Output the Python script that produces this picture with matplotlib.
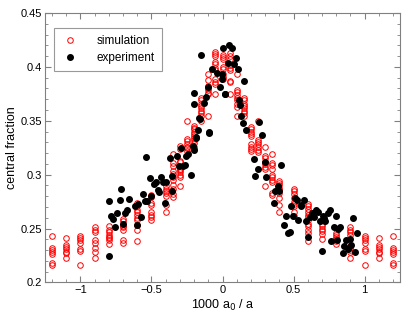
import numpy as np
import matplotlib.pyplot as plt
from matplotlib.ticker import MultipleLocator

plt.rcParams.update({
    'font.family': ['Liberation Sans', 'DejaVu Sans'],
    'font.size': 8,
    'axes.unicode_minus': True,
})

# simulation: several runs per a0 column
sim_cols = [-1.2, -1.1, -1.0, -0.9, -0.8, -0.7, -0.6, -0.5, -0.4, -0.35, -0.3,
            -0.25, -0.2, -0.15, -0.1, -0.05, 0.0, 0.05, 0.1, 0.15, 0.2, 0.25,
            0.3, 0.35, 0.4, 0.5, 0.6, 0.7, 0.8, 0.9, 1.0, 1.1, 1.2]
sim_vals = [
    [0.243, 0.232, 0.230, 0.228, 0.226, 0.218, 0.216],
    [0.241, 0.235, 0.233, 0.231, 0.228, 0.227, 0.223],
    [0.243, 0.241, 0.239, 0.237, 0.231, 0.229, 0.216],
    [0.251, 0.249, 0.247, 0.239, 0.237, 0.232, 0.228, 0.223],
    [0.252, 0.249, 0.247, 0.244, 0.242, 0.241, 0.239, 0.236],
    [0.259, 0.257, 0.252, 0.251, 0.249, 0.239, 0.237],
    [0.274, 0.271, 0.267, 0.265, 0.263, 0.260, 0.258, 0.253, 0.249, 0.238],
    [0.281, 0.279, 0.274, 0.272, 0.265, 0.263, 0.261, 0.258],
    [0.289, 0.287, 0.285, 0.283, 0.280, 0.272, 0.265],
    [0.319, 0.311, 0.308, 0.303, 0.301, 0.298, 0.295, 0.290, 0.287, 0.282, 0.279],
    [0.327, 0.324, 0.313, 0.312, 0.305, 0.304, 0.302, 0.300, 0.298, 0.289],
    [0.350, 0.333, 0.331, 0.328, 0.326, 0.325, 0.322],
    [0.345, 0.343, 0.342, 0.340, 0.338, 0.336, 0.334, 0.332, 0.329, 0.326, 0.324],
    [0.371, 0.369, 0.366, 0.364, 0.362, 0.359, 0.357, 0.354, 0.350],
    [0.393, 0.388, 0.382, 0.380, 0.379, 0.376, 0.375, 0.354],
    [0.414, 0.412, 0.410, 0.405, 0.403, 0.399, 0.397, 0.389, 0.386, 0.384, 0.375],
    [0.411, 0.409, 0.407, 0.400, 0.398, 0.393, 0.391, 0.389],
    [0.413, 0.410, 0.407, 0.402, 0.399, 0.397, 0.387, 0.386, 0.375],
    [0.393, 0.379, 0.377, 0.374, 0.371, 0.369, 0.366, 0.363, 0.354],
    [0.371, 0.369, 0.366, 0.364, 0.362, 0.359, 0.357, 0.354],
    [0.344, 0.342, 0.340, 0.338, 0.336, 0.328, 0.326, 0.324, 0.322],
    [0.350, 0.332, 0.330, 0.328, 0.326, 0.323, 0.321],
    [0.326, 0.317, 0.315, 0.312, 0.310, 0.307, 0.305, 0.289],
    [0.319, 0.311, 0.309, 0.305, 0.300, 0.298, 0.295, 0.293, 0.283, 0.281],
    [0.294, 0.292, 0.290, 0.288, 0.286, 0.283, 0.278, 0.272, 0.265],
    [0.287, 0.285, 0.282, 0.278, 0.275, 0.273, 0.271, 0.265, 0.262],
    [0.273, 0.271, 0.268, 0.265, 0.263, 0.261, 0.258, 0.254, 0.252, 0.249, 0.246, 0.238],
    [0.254, 0.252, 0.250, 0.248, 0.245, 0.240],
    [0.246, 0.244, 0.242, 0.240, 0.238, 0.236],
    [0.251, 0.249, 0.247, 0.244, 0.234, 0.232, 0.230, 0.228, 0.223],
    [0.243, 0.241, 0.239, 0.237, 0.231, 0.229, 0.216],
    [0.241, 0.235, 0.233, 0.231, 0.228, 0.227, 0.223],
    [0.243, 0.232, 0.230, 0.228, 0.226, 0.218, 0.216],
]

# experiment
exp_x = [-0.796, -0.796, -0.784, -0.768, -0.754, -0.742, -0.725, -0.718, -0.702, -0.690,
         -0.674, -0.660, -0.615, -0.603, -0.592, -0.575, -0.561, -0.549, -0.542, -0.530,
         -0.514, -0.500, -0.484, -0.470, -0.456, -0.444, -0.430, -0.417, -0.404, -0.396,
         -0.373, -0.359, -0.354, -0.319, -0.308, -0.294, -0.280, -0.265, -0.256, -0.242,
         -0.220, -0.209, -0.204, -0.190, -0.174, -0.157, -0.092, -0.204, -0.148, -0.202,
         -0.185, -0.162, -0.132, -0.115, -0.092, -0.075, -0.037, -0.021, -0.007, 0.005,
         0.019, 0.037, 0.049, 0.065, 0.092, 0.080, 0.108, -0.002, 0.150, -0.104,
         0.021, 0.115, 0.120, 0.131, 0.143, 0.260, 0.162, 0.277, 0.220, 0.296,
         0.248, 0.232, 0.308, 0.415, 0.392, 0.373, 0.401, 0.361, 0.479, 0.509,
         0.523, 0.554, 0.577, 0.430, 0.446, 0.460, 0.472, 0.495, 0.533, 0.554,
         0.590, 0.600, 0.613, 0.627, 0.643, 0.660, 0.671, 0.685, 0.699, 0.707,
         0.716, 0.725, 0.742, 0.754, 0.765, 0.784, 0.796, 0.805, 0.815, 0.829,
         0.847, 0.859, 0.873, 0.887, 0.899, 0.906, 0.918, 0.930, 0.944]
exp_y = [0.2244, 0.2759, 0.2620, 0.2590, 0.2516, 0.2640, 0.2769, 0.2870, 0.2546, 0.2645,
         0.2676, 0.2775, 0.2707, 0.2534, 0.2731, 0.2608, 0.2824, 0.2753, 0.3167, 0.2753,
         0.2970, 0.2800, 0.2914, 0.2932, 0.2855, 0.2840, 0.2975, 0.2932, 0.2738, 0.2932,
         0.3150, 0.2852, 0.2985, 0.3176, 0.3083, 0.3250, 0.3077, 0.3093, 0.3176, 0.3194,
         0.2994, 0.3262, 0.3230, 0.3340, 0.3410, 0.3516, 0.3386, 0.3757, 0.4111, 0.3657,
         0.3345, 0.3525, 0.3664, 0.3725, 0.3395, 0.3981, 0.3942, 0.3812, 0.3935, 0.4173,
         0.3750, 0.4040, 0.4204, 0.4179, 0.4080, 0.4025, 0.3979, 0.3889, 0.3870, 0.3818,
         0.3753, 0.3692, 0.3648, 0.3540, 0.3479, 0.3488, 0.3417, 0.3367, 0.3146, 0.3114,
         0.3053, 0.2991, 0.2975, 0.3086, 0.2892, 0.2845, 0.2845, 0.2738, 0.2707, 0.2784,
         0.2762, 0.2716, 0.2762, 0.2530, 0.2614, 0.2454, 0.2466, 0.2620, 0.2583, 0.2707,
         0.2568, 0.2423, 0.2608, 0.2645, 0.2608, 0.2670, 0.2651, 0.2574, 0.2290, 0.2614,
         0.2599, 0.2568, 0.2640, 0.2670, 0.2383, 0.2516, 0.2614, 0.2398, 0.2491, 0.2516,
         0.2275, 0.2336, 0.2389, 0.2312, 0.2404, 0.2343, 0.2599, 0.2281, 0.2454]

sim_x = np.concatenate([[c] * len(v) for c, v in zip(sim_cols, sim_vals)])
sim_y = np.concatenate(sim_vals)

fig = plt.figure(figsize=(4.15, 3.18), dpi=100)
ax = fig.add_axes([0.1084, 0.112, 0.8555, 0.847])

ax.plot(sim_x, sim_y, 'o', mfc='none', mec='#ff0000', mew=0.7, ms=4.0,
        ls='none', label='simulation')
ax.plot(exp_x, exp_y, 'o', mfc='black', mec='black', ms=4.0,
        ls='none', label='experiment')

ax.set_xlim(-1.25, 1.25)
ax.set_ylim(0.2, 0.45)
ax.xaxis.set_minor_locator(MultipleLocator(0.1))
ax.yaxis.set_minor_locator(MultipleLocator(0.01))
ax.set_xticks([-1, -0.5, 0, 0.5, 1])
ax.set_xticklabels(['\u22121', '\u22120.5', '0', '0.5', '1'])
ax.set_yticks([0.2, 0.25, 0.3, 0.35, 0.4, 0.45])
ax.set_yticklabels(['0.2', '0.25', '0.3', '0.35', '0.4', '0.45'])

for s in ax.spines.values():
    s.set_color('#808080')
    s.set_linewidth(0.8)
ax.tick_params(which='both', direction='in', top=True, right=True,
               color='#808080', labelsize=8, pad=2)
ax.tick_params(which='major', length=4, width=0.8)
ax.tick_params(which='minor', length=2.2, width=0.6)

ax.set_xlabel('1000 a$_0$ / a', fontsize=9, labelpad=2)
ax.set_ylabel('central fraction', fontsize=9, labelpad=2)

leg = ax.legend(loc='upper left', bbox_to_anchor=(0.025, 0.945), fontsize=8.5,
                frameon=True, fancybox=False, edgecolor='#808080',
                handletextpad=1.4, borderpad=0.6, labelspacing=0.4,
                handlelength=1.6, borderaxespad=0)
leg.get_frame().set_linewidth(0.8)

fig.savefig('out.png', dpi=100)
